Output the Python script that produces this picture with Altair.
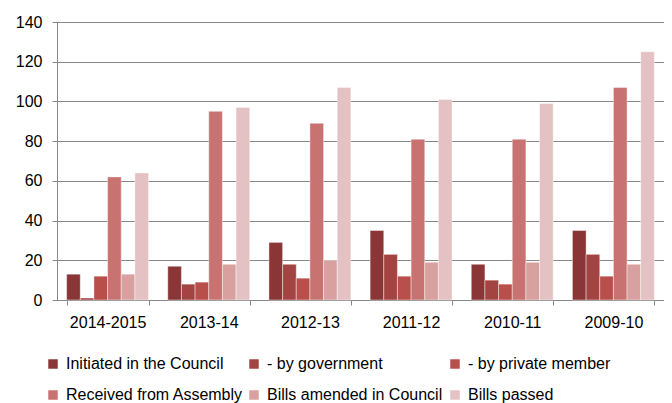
import altair as alt
import pandas as pd

years = ["2014-2015", "2013-14", "2012-13", "2011-12", "2010-11", "2009-10"]
series = ["Initiated in the Council", " - by government", "- by private member",
          "Received from Assembly", "Bills amended in Council", "Bills passed"]
initiated = [13, 17, 29, 35, 18, 35]
by_gov = [1, 8, 18, 23, 10, 23]
by_private = [12, 9, 11, 12, 8, 12]
received = [62, 95, 89, 81, 81, 107]
amended = [13, 18, 20, 19, 19, 18]
passed = [64, 97, 107, 101, 99, 125]
colors = ["#8B3636", "#A44442", "#B84F4A", "#C87372", "#D9A0A0", "#E4C2C3"]

vals = [initiated, by_gov, by_private, received, amended, passed]
rows = []
for s, v in zip(series, vals):
    for y, n in zip(years, v):
        rows.append({"year": y, "series": s, "value": n})
df = pd.DataFrame(rows)

FONT = "Liberation Sans"

chart = alt.Chart(df).mark_bar(stroke="white", strokeWidth=0.7, strokeOpacity=0.6).encode(
    x=alt.X("year:N", sort=years, title=None,
            scale=alt.Scale(paddingInner=0.19, paddingOuter=0.095),
            axis=alt.Axis(labelAngle=0, tickBand="extent", tickSize=5, labelPadding=9,
                          domainColor="#888888", tickColor="#888888", labelFontSize=16,
                          labelColor="#000000", labelFont=FONT, grid=False)),
    xOffset=alt.XOffset("series:N", sort=series, scale=alt.Scale(paddingInner=0, paddingOuter=0)),
    y=alt.Y("value:Q", title=None,
            scale=alt.Scale(domain=[0, 140]),
            axis=alt.Axis(values=list(range(0, 141, 20)), tickSize=5, labelPadding=10,
                          domainColor="#888888", tickColor="#888888", gridColor="#888888",
                          gridWidth=1.2, labelFontSize=16, labelColor="#000000", labelFont=FONT)),
    color=alt.Color("series:N", sort=series,
                    scale=alt.Scale(domain=series, range=colors),
                    legend=alt.Legend(title=None, orient="none", legendX=-12, legendY=334,
                                      direction="horizontal",
                                      columns=3, gridAlign="all", columnPadding=3,
                                      rowPadding=15, symbolType="square", symbolSize=90,
                                      symbolStrokeWidth=0, labelFontSize=16, labelFont=FONT,
                                      labelOffset=5, labelColor="#000000", labelLimit=300,
                                      symbolOffset=0)),
).properties(
    width=607, height=278,
    padding={"left": 49, "top": 14, "right": 0, "bottom": 104},
    autosize="none",
).configure_view(stroke=None)

chart.save("out.html", embed_options={"renderer": "svg", "actions": False})
